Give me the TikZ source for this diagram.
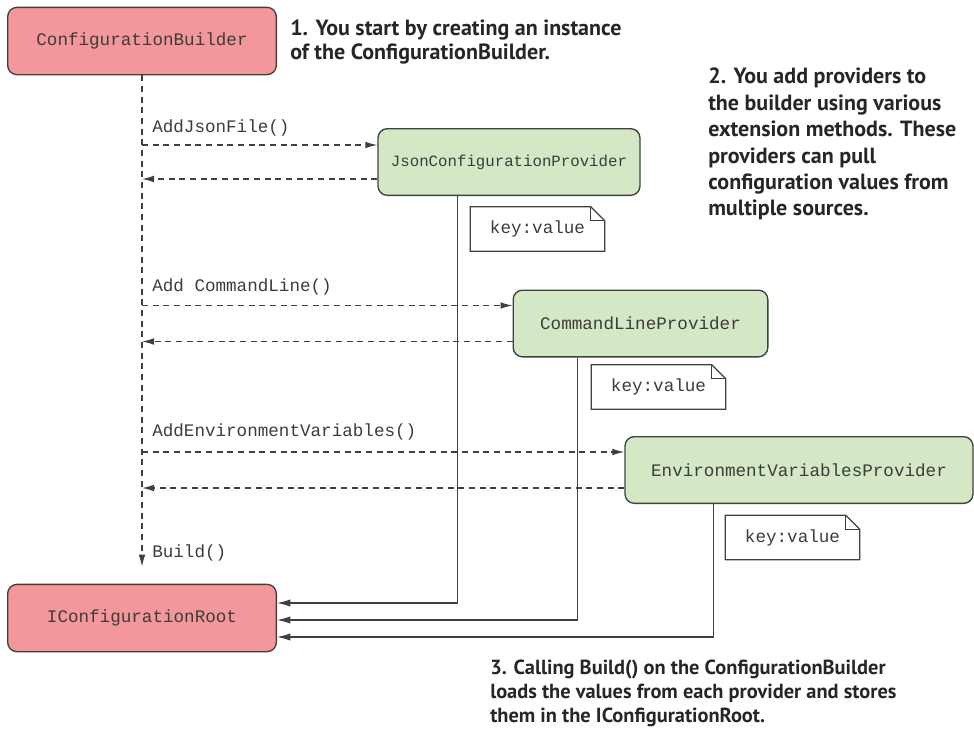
\documentclass[tikz,border=0pt]{standalone}
\usepackage{fontspec}
\setmainfont{PT Sans}
\setmonofont{Liberation Mono}
\usetikzlibrary{arrows.meta, calc, positioning}
\definecolor{cpink}{RGB}{244,151,155}
\definecolor{cgreen}{RGB}{213,232,197}
\definecolor{cline}{RGB}{64,64,64}
\definecolor{ctext}{RGB}{60,60,60}

\begin{document}
\begin{tikzpicture}[x=0.75pt, y=-0.75pt,
  box/.style={draw=cline, line width=1pt, rounded corners=7pt, inner sep=0pt,
    font=\ttfamily\fontsize{13.2}{16}\selectfont, text=ctext},
  builder/.style={box, fill=cpink, minimum width=201.5pt, minimum height=50.5pt},
  provider/.style={box, fill=cgreen, minimum height=50pt},
  kvnote/.style={inner sep=0pt, minimum width=100.5pt, minimum height=33pt,
    font=\ttfamily\fontsize{13.2}{16}\selectfont, text=ctext},
  call/.style={draw=cline, line width=0.9pt, dash pattern=on 4.5pt off 3.5pt,
    -{Latex[length=9pt,width=5pt]}},
  feed/.style={draw=cline, line width=0.9pt, -{Latex[length=10pt,width=5.5pt]}},
  lbl/.style={anchor=west, inner sep=0pt, font=\ttfamily\fontsize{13.2}{16}\selectfont, text=ctext},
  ann/.style={anchor=north west, align=left, inner sep=0pt, text=black!85,
    font=\bfseries\fontsize{16.5}{19.8}\selectfont}
]
\useasboundingbox (0,0) rectangle (974,728);

% participants
\node[builder] (cb) at (142,41) {ConfigurationBuilder};
\node[builder] (root) at (142,618) {IConfigurationRoot};
\node[provider, minimum width=196.5pt, font=\ttfamily\fontsize{11.8}{14}\selectfont] (json) at (509,162) {JsonConfigurationProvider};
\node[provider, minimum width=191pt] (cmd) at (640.5,323.5) {CommandLineProvider};
\node[provider, minimum width=261pt] (env) at (799,470) {EnvironmentVariablesProvider};

% key:value notes
\node[kvnote] (jsonkv) at (537.5,229) {key:value\hspace{8pt}};
\node[kvnote] (cmdkv) at (658.5,387) {key:value\hspace{8pt}};
\node[kvnote] (envkv) at (792.5,537.5) {key:value\hspace{8pt}};
\foreach \n in {jsonkv,cmdkv,envkv}{
  \draw[cline, line width=0.9pt] (\n.north west) -- ($(\n.north east)+(-14,0)$)
    -- ($(\n.north east)+(0,14)$) -- (\n.south east) -- (\n.south west) -- cycle;
  \draw[cline, line width=0.9pt] ($(\n.north east)+(-14,0)$) |- ($(\n.north east)+(0,14)$);
}

% lifeline of the builder
\coordinate (bt) at ($(root.north)+(0,-17)$);
\draw[call] (cb.south) -- (bt);
\node[lbl] (build) at (152,553) {Build()};

% calls and returns
\coordinate (j1) at ($(json.north west)+(0,17)$);
\coordinate (j2) at ($(json.south west)+(0,-17)$);
\draw[call] (cb.south |- j1) -- (j1);
\draw[call] (j2) -- (cb.south |- j2);
\node[lbl] (addjson) at (152,128) {AddJsonFile()};

\coordinate (c1) at ($(cmd.north west)+(0,16)$);
\coordinate (c2) at ($(cmd.south west)+(0,-16)$);
\draw[call] (cb.south |- c1) -- (c1);
\draw[call] (c2) -- (cb.south |- c2);
\node[lbl] (addcmd) at (152,287) {Add CommandLine()};

\coordinate (e1) at ($(env.north west)+(0,16)$);
\coordinate (e2) at ($(env.south west)+(0,-16)$);
\draw[call] (cb.south |- e1) -- (e1);
\draw[call] (e2) -- (cb.south |- e2);
\node[lbl] (addenv) at (152,432) {AddEnvironmentVariables()};

% values into the root
\draw[feed] ($(json.south west)+(80,0)$) |- ($(root.east)+(0,-15)$);
\draw[feed] ($(cmd.south west)+(65,0)$) |- ($(root.east)+(0,2)$);
\draw[feed] ($(env.south west)+(89,0)$) |- ($(root.east)+(0,19)$);

% notes
\node[ann, font=\bfseries\fontsize{16.5}{17.5}\selectfont] (step1) at (290,20) {1. You start by creating an instance\\of the ConfigurationBuilder.};
\node[ann] (step2) at (708,68) {2. You add providers to\\the builder using various\\extension methods. These\\providers can pull\\configuration values from\\multiple sources.};
\node[ann, font=\bfseries\fontsize{15.3}{18}\selectfont] (step3) at (490,660) {3. Calling Build() on the ConfigurationBuilder\\loads the values from each provider and stores\\them in the IConfigurationRoot.};
\end{tikzpicture}
\end{document}
